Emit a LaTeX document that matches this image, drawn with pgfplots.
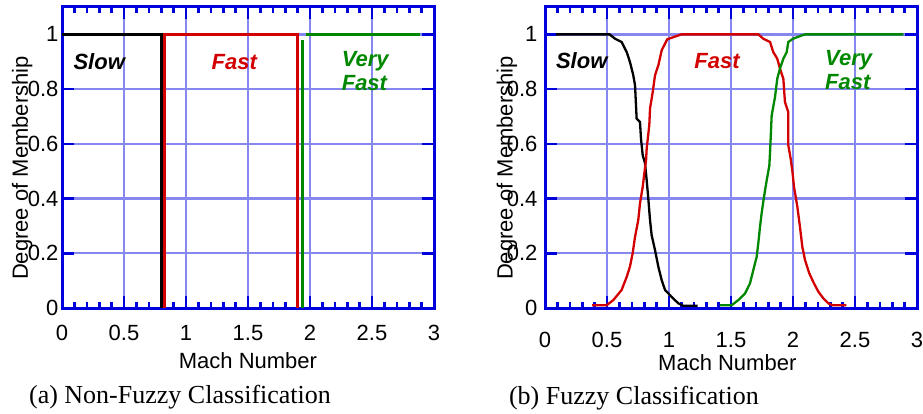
\documentclass[border=0pt]{standalone}
\usepackage{pgfplots}
\pgfplotsset{compat=1.18}
\usepackage{fontspec}
\setmainfont{Liberation Serif}
\setsansfont{Liberation Sans}
\definecolor{axblue}{RGB}{0,0,220}
\definecolor{gridblue}{RGB}{135,135,240}
\definecolor{cred}{RGB}{210,0,0}
\definecolor{cgreen}{RGB}{0,135,0}
\pgfplotsset{
  memb/.style={
    scale only axis, width=372pt, height=301pt,
    anchor=south west,
    xmin=0, xmax=3, ymin=0, ymax=1.1,
    xtick={0,0.5,1,1.5,2,2.5,3}, ytick={0,0.2,0.4,0.6,0.8,1},
    minor x tick num=4,
    grid=major,
    major grid style={gridblue, line width=2.4pt},
    axis line style={axblue, line width=3pt},
    every tick/.style={axblue, line width=2.6pt},
    major tick length=12pt, minor tick length=6pt,
    tick align=inside,
    /pgf/number format/assume math mode=true,
    tick label style={font=\fontsize{22}{24}\selectfont\sffamily},
    label style={font=\fontsize{22}{24}\selectfont\sffamily},
    xlabel={Mach Number},
    ylabel={Degree of Membership},
  }
}
\begin{document}
\begin{tikzpicture}
\useasboundingbox (0,0) rectangle (923pt,413pt);
% ---------- (a) ----------
\begin{axis}[memb, at={(62pt,105pt)},
  ylabel style={at={(axis description cs:-0.107,0.465)}, anchor=center},
  xlabel style={at={(axis description cs:0.5,-0.175)}, anchor=center},
  xticklabel style={anchor=center, yshift=-25pt}]
\addplot[black, line width=2.8pt] coordinates {(0,1) (0.805,1) (0.805,0)};
\addplot[cred, line width=2.8pt] coordinates {(0.826,0) (0.826,1) (1.897,1) (1.897,0)};
\addplot[cgreen, line width=2.8pt] coordinates {(1.94,0) (1.94,0.978)};
\addplot[cgreen, line width=2.8pt] coordinates {(1.968,1) (2.89,1)};
\node[font=\fontsize{22}{24}\selectfont\sffamily\bfseries\itshape, text=black] at (axis cs:0.30,0.90) {Slow};
\node[font=\fontsize{22}{24}\selectfont\sffamily\bfseries\itshape, text=cred] at (axis cs:1.39,0.90) {Fast};
\node[font=\fontsize{22}{24}\selectfont\sffamily\bfseries\itshape, text=cgreen, align=left, anchor=west, inner sep=0pt] at (axis cs:2.255,0.865) {Very\\Fast};
\end{axis}
% ---------- (b) ----------
\begin{axis}[memb, at={(545pt,105pt)},
  ylabel style={at={(axis description cs:-0.102,0.465)}, anchor=center},
  xlabel style={at={(axis description cs:0.49,-0.180)}, anchor=center},
  xticklabel style={anchor=center, yshift=-32pt},
  yticklabel style={xshift=-4pt}]
\addplot[black, line width=2.3pt] coordinates {
(0.09,1) (0.52,1) (0.565,0.984) (0.618,0.972) (0.659,0.935) (0.685,0.899)
(0.712,0.85) (0.726,0.814) (0.739,0.692) (0.766,0.68) (0.774,0.619) (0.788,0.558)
(0.806,0.53) (0.82,0.467) (0.833,0.40) (0.847,0.321) (0.86,0.266) (0.887,0.212)
(0.914,0.151) (0.941,0.102) (0.968,0.066) (1.02,0.041) (1.075,0.017) (1.115,0.008) (1.23,0.008)};
\addplot[cred, line width=2.3pt] coordinates {
(0.38,0.01) (0.497,0.01) (0.551,0.029) (0.618,0.066) (0.659,0.114) (0.685,0.151)
(0.707,0.2) (0.726,0.26) (0.752,0.321) (0.766,0.382) (0.788,0.443) (0.801,0.492)
(0.815,0.54) (0.82,0.583) (0.841,0.668) (0.847,0.729) (0.869,0.79) (0.887,0.85)
(0.914,0.887) (0.941,0.942) (0.986,0.982) (1.075,0.996) (1.1,1) (1.72,1)
(1.761,0.984) (1.815,0.972) (1.841,0.935) (1.873,0.911) (1.895,0.875) (1.922,0.838)
(1.935,0.753) (1.962,0.716) (1.962,0.595) (1.981,0.546) (1.995,0.5) (2.008,0.443)
(2.035,0.37) (2.056,0.297) (2.075,0.224) (2.097,0.175) (2.131,0.127) (2.169,0.09)
(2.204,0.06) (2.245,0.035) (2.285,0.017) (2.32,0.01) (2.43,0.01)};
\addplot[cgreen, line width=2.3pt] coordinates {
(1.41,0.01) (1.505,0.01) (1.559,0.029) (1.613,0.053) (1.653,0.09) (1.68,0.139)
(1.707,0.187) (1.72,0.236) (1.734,0.297) (1.747,0.346) (1.766,0.406) (1.788,0.467)
(1.809,0.52) (1.815,0.57) (1.828,0.704) (1.855,0.771) (1.873,0.838) (1.895,0.875)
(1.922,0.911) (1.949,0.935) (1.962,0.972) (2.0,0.984) (2.07,0.996) (2.1,1) (2.89,1)};
\node[font=\fontsize{22}{24}\selectfont\sffamily\bfseries\itshape, text=black] at (axis cs:0.296,0.903) {Slow};
\node[font=\fontsize{22}{24}\selectfont\sffamily\bfseries\itshape, text=cred] at (axis cs:1.387,0.903) {Fast};
\node[font=\fontsize{22}{24}\selectfont\sffamily\bfseries\itshape, text=cgreen, align=left, anchor=west, inner sep=0pt] at (axis cs:2.258,0.87) {Very\\Fast};
\end{axis}
\node[font=\fontsize{26}{28}\selectfont] at (180pt,16pt) {(a) Non-Fuzzy Classification};
\node[font=\fontsize{26}{28}\selectfont] at (634pt,15pt) {(b) Fuzzy Classification};
\end{tikzpicture}
\end{document}
